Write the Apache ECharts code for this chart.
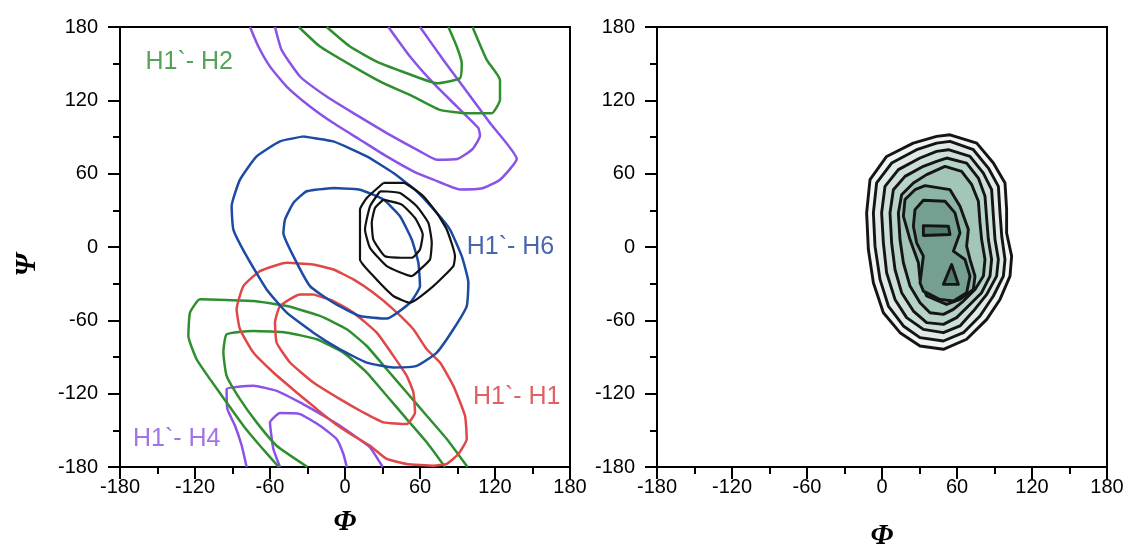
<!DOCTYPE html>
<html><head><meta charset="utf-8">
<script src="https://cdn.jsdelivr.net/npm/echarts@6/dist/echarts.min.js"></script>
<style>html,body{margin:0;padding:0;background:#fff}#c{width:1130px;height:550px}</style>
</head><body><div id="c"></div>
<script>
// ---- axes ----
const phiTicks = [-180, -120, -60, 0, 60, 120, 180];
const psiTicks = [-180, -120, -60, 0, 60, 120, 180];

// ---- left panel contours [phi, psi] ----
const h2TopOuter = [[-37,180],[-20,164],[6.7,147.6],[30.7,134],[54.7,123.1],[76,112.2],[97.4,109.5],[117.4,109.5],[124,120.4],[124,136.7],[113.4,153.1],[102,180]];
const h2TopInner = [[-14.7,180],[4,164],[25.4,151.7],[49.4,142.2],[73.4,134],[92,138.1],[93.4,150.3],[89.4,164],[82.7,180]];
const h2LowOuter = [[98,-180],[81.4,-157.1],[65.4,-138.1],[49.4,-119],[33.4,-100],[17.4,-81],[1.4,-67.3],[-20,-56.4],[-46.6,-48.3],[-73.3,-44.2],[-116,-42.8],[-124,-53.7],[-125.3,-72.8],[-118.7,-91.8],[-108,-108.1],[-94.7,-127.2],[-81.3,-146.2],[-68,-162.6],[-53,-180]];
const h2LowInner = [[80,-180],[65.4,-159.8],[49.4,-140.8],[33.4,-121.7],[17.4,-102.7],[-1.3,-86.4],[-22.6,-75.5],[-46.6,-70.1],[-73.3,-68.7],[-94.7,-71.4],[-97.3,-86.4],[-94.7,-105.4],[-84,-124.5],[-70.7,-143.5],[-54.7,-162.6],[-30,-180]];
const h4TopOuter = [[-76,180],[-69.3,164],[-60,147.6],[-46.7,131.3],[-28,115],[-9.3,101.4],[12,87.8],[33.4,74.1],[54.7,61.9],[70.7,55.1],[92,47],[110,48],[124,55],[137.4,72],[116,101.4],[97.4,127.2],[78.7,153],[60,180]];
const h4TopInner = [[-56,180],[-50.7,161.2],[-36,139.5],[-14.7,123.1],[6.7,109.5],[33.4,93.2],[60,78.2],[73.4,71.4],[90,72],[102,80],[108,91],[106.7,97.3],[89.4,115],[70.7,134],[52,155.8],[34.7,180]];
const h4LowOuter = [[-78.7,-180],[-82.6,-162.6],[-88,-146.2],[-94.1,-132.6],[-94.7,-116.3],[-73.3,-113.6],[-54.7,-117.7],[-36,-127.2],[-17.3,-138.1],[-4,-146.2],[9.4,-155.8],[20,-163.9],[25.4,-172.1],[30.2,-180]];
const h4LowInner = [[-52,-180],[-57.3,-165.3],[-60,-143.5],[-52,-135.9],[-36,-136.7],[-20,-146.2],[-6.7,-157.1],[-1.3,-169.4],[1.4,-180]];
const h6Outer = [[-33.3,90.5],[-52,86.4],[-70.7,74.1],[-84,55.1],[-90.7,33.3],[-89.3,14.3],[-78.7,-7.5],[-62.7,-34.7],[-46.6,-53.7],[-25.3,-70.1],[-4,-83.7],[17.4,-94.6],[38.7,-98.6],[57.4,-97.3],[73.4,-86.4],[86.7,-67.3],[97.4,-48.3],[98.7,-29.2],[93.4,-7.5],[84,14.3],[73.4,27.9],[57.4,45.6],[38.7,60.5],[17.4,74.1],[-9.3,86.4],[-33.3,90.5]];
const h6Inner = [[-9.3,48.3],[-30.6,45.6],[-41.3,36],[-48,22.4],[-49.3,11.5],[-41.3,-7.5],[-28,-32],[-9.3,-45.6],[12,-56.5],[33.4,-58.6],[52,-45.6],[60,-32],[58.7,-12.9],[53.4,6.1],[44,25.2],[30.7,38.8],[12,46.9],[-9.3,48.3]];
const h1Outer = [[-25.3,-14.3],[-46.6,-12.9],[-68,-19.7],[-81.3,-32],[-86.7,-51],[-84,-67.3],[-73.3,-86.4],[-57.3,-102.7],[-38.7,-119],[-22.6,-132.6],[-9.3,-143.5],[6.7,-154.4],[20,-162.6],[33.4,-173.4],[49.4,-177.5],[70.7,-178.9],[81.4,-177.5],[90.7,-169.4],[97.4,-157.1],[96,-138.1],[86.7,-113.6],[76,-94.5],[65.4,-83.7],[54.7,-67.3],[38.7,-51],[22.7,-37.4],[6.7,-26.5],[-9.3,-18.4],[-25.3,-14.3]];
const h1Inner = [[-25.3,-38.8],[-36,-38.8],[-52,-48.3],[-56,-61.9],[-54.7,-78.2],[-44,-94.5],[-25.3,-110.9],[-4,-124.5],[14.7,-135.4],[30.7,-143.5],[49.4,-144.9],[56,-135.4],[54.7,-119],[49.4,-105.4],[38.7,-89.1],[25.4,-70.1],[6.7,-53.7],[-9.3,-44.2],[-25.3,-38.8]];
const blackOuter = [[30.7,52.4],[46.7,52.4],[62.7,41.5],[73.4,27.9],[81.4,14.3],[88,-7.5],[86.7,-15.6],[70.7,-32],[52,-45.6],[38.7,-40.1],[22.7,-23.8],[12,-10.2],[12,14.3],[12,30.6],[17.4,40.1],[30.7,52.4]];
const blackMid = [[28,45.6],[44,44.2],[57.4,33.3],[66.7,19.7],[69.4,3.4],[68,-10.2],[60,-18.4],[53.4,-23.8],[33.4,-15.6],[20,-0.7],[16,14.3],[20,33.3],[28,45.6]];
const blackInner = [[30.7,38.8],[45.4,34.7],[56,23.8],[62.2,10.2],[60,-2],[53.4,-8.8],[32,-7.5],[22.7,6.1],[21.4,19.7],[24,32],[30.7,38.8]];

// ---- right panel filled contours (outer -> inner) ----
const ring1 = [[54.4,91.8],[75.8,85],[89.1,68.7],[98.4,52.4],[99.7,30.6],[99.7,11.5],[103.7,-7.5],[102.4,-23.8],[94.4,-42.9],[83.8,-59.2],[67.7,-75.5],[49.1,-83.7],[30.4,-81],[14.4,-70.1],[1.1,-53.8],[-6.9,-29.3],[-10.9,-2.1],[-12.3,27.9],[-9.6,55.1],[3.7,74.1],[25,85],[43.7,90.5]];
const ring2 = [[54.4,86.4],[73.1,79.6],[85.1,64.6],[93.1,49.6],[94.4,27.9],[95.8,8.8],[98.4,-10.2],[97.1,-23.8],[89.1,-40.1],[78.4,-56.5],[65.1,-70.1],[49.1,-76.9],[30.4,-74.2],[17.1,-64.6],[5.1,-48.3],[-1.6,-26.5],[-5.6,0.7],[-6.9,27.9],[-4.3,52.4],[7.7,68.7],[27.7,79.6],[43.7,85]];
const ring3 = [[53.1,79.6],[70.4,74.1],[81.1,60.5],[87.7,46.9],[89.1,25.2],[90.4,6.1],[93.1,-10.2],[91.7,-23.8],[83.8,-38.8],[73.1,-52.4],[62.4,-64.6],[49.1,-70.1],[33.1,-67.4],[19.7,-57.8],[10.4,-42.9],[3.7,-21.1],[1.1,3.4],[-0.3,27.9],[2.4,49.6],[13.1,63.3],[30.4,72.8],[43.7,78.2]];
const ring4 = [[51.7,72.8],[67.7,68.7],[77.1,56.4],[82.4,41.5],[83.8,22.4],[85.1,6.1],[87.7,-10.2],[86.4,-23.8],[79.7,-37.4],[69.1,-48.3],[59.7,-57.8],[49.1,-63.3],[35.7,-61.9],[25.1,-52.4],[15.7,-37.4],[10.4,-18.4],[7.7,3.4],[6.4,27.9],[9.1,46.9],[18.4,57.8],[33.1,66],[43.7,70.1]];
const ring5 = [[50.4,66],[63.7,61.9],[71.8,51],[77.1,37.4],[78.4,19.7],[79.7,6.1],[82.4,-10.2],[81.1,-23.8],[74.4,-34.7],[65.1,-44.2],[57.1,-51],[49.1,-55.1],[38.4,-53.8],[30.4,-45.6],[22.4,-32],[17.1,-12.9],[14.4,6.1],[13.1,27.9],[15.7,42.8],[25.1,52.4],[35.7,59.2]];
const ring6 = [[34.4,50.2],[54.4,46.9],[62.4,33.3],[69.1,14.3],[67.7,0.7],[70.4,-10.2],[74.4,-23.8],[73.1,-34.7],[62.4,-42.9],[51.7,-47],[35.7,-40.1],[30.4,-26.5],[29.1,-12.9],[22.4,6.1],[17.1,25.2],[18.4,38.8],[26.4,46.9]];
const ring7 = [[33.1,38.2],[50.4,37.4],[58.4,27.9],[62.4,11.5],[57.1,-3.4],[66.4,-10.2],[70.4,-23.8],[67.7,-37.4],[57.1,-44.2],[46.4,-42.9],[33.1,-36.1],[30.4,-29.3],[33.1,-7.5],[27.7,3.4],[25.1,17],[26.4,30.6]];
const ring8a = [[33.1,17.5],[53.1,17],[54.4,10.2],[33.1,9.4]];
const ring8b = [[55.7,-14.3],[61.1,-30.6],[49.1,-30.6]];

// ---- labels ----
const labelTexts = ['H1`- H2', 'H1`- H6', 'H1`- H1', 'H1`- H4'];
const labelAnchors = [[-160,151], [97,0], [102,-123], [-170,-157]];

// ---- styles ----
const GREEN = '#2f8f2f', BLUE = '#1d4aa2', RED = '#e04848', PURPLE = '#8a52e6', BLACK = '#111';
const labelColors = ['#2e8a2e', '#1a3f99', '#d83a3a', '#8a50e0'];
const ringFills = ['#f1f6f3', '#e0ebe6', '#cde0d8', '#b8d3c8', '#a3c6b9', '#8db5a6', '#759f90', '#527c6e', '#527c6e'];
const rings = [ring1, ring2, ring3, ring4, ring5, ring6, ring7, ring8a, ring8b];

const chart = echarts.init(document.getElementById('c'), null, {renderer: 'canvas'});

function xAx(gi, gap) {
  return {
    gridIndex: gi, type: 'value', min: phiTicks[0], max: phiTicks[phiTicks.length - 1], interval: phiTicks[1] - phiTicks[0],
    axisLine: {show: true, onZero: false, lineStyle: {color: '#000', width: 2}},
    axisTick: {show: true, inside: false, length: 12, lineStyle: {color: '#000', width: 2}},
    minorTick: {show: true, splitNumber: 2, length: 7, lineStyle: {color: '#000', width: 2}},
    axisLabel: {color: '#000', fontSize: 20, fontFamily: 'Liberation Sans', margin: 10},
    splitLine: {show: false},
    name: 'Φ', nameLocation: 'middle', nameGap: gap,
    nameTextStyle: {fontFamily: 'Liberation Serif', fontStyle: 'italic', fontWeight: 'bold', fontSize: 29, color: '#000'}
  };
}
function yAx(gi, withName) {
  return {
    gridIndex: gi, type: 'value', min: psiTicks[0], max: psiTicks[psiTicks.length - 1], interval: psiTicks[1] - psiTicks[0],
    axisLine: {show: true, onZero: false, lineStyle: {color: '#000', width: 2}},
    axisTick: {show: true, inside: false, length: 12, lineStyle: {color: '#000', width: 2}},
    minorTick: {show: true, splitNumber: 2, length: 7, lineStyle: {color: '#000', width: 2}},
    axisLabel: {color: '#000', fontSize: 20, fontFamily: 'Liberation Sans', margin: 22},
    splitLine: {show: false},
    name: withName ? 'Ψ' : '', nameLocation: 'middle', nameGap: 78, nameRotate: 90,
    nameTextStyle: {fontFamily: 'Liberation Serif', fontStyle: 'italic', fontWeight: 'bold', fontSize: 29, color: '#000', padding: [0, 36, 0, 0]}
  };
}
function contour(data, color, w) {
  return {type: 'line', xAxisIndex: 0, yAxisIndex: 0, data: data, showSymbol: false, symbol: 'none',
    smooth: 0.15, lineStyle: {color: color, width: w}, silent: true, animation: false, clip: true, z: 3};
}

const series = [
  contour(h4TopOuter, PURPLE, 2.5), contour(h4TopInner, PURPLE, 2.5),
  contour(h4LowOuter, PURPLE, 2.5), contour(h4LowInner, PURPLE, 2.5),
  contour(h2TopOuter, GREEN, 2.5), contour(h2TopInner, GREEN, 2.5),
  contour(h2LowOuter, GREEN, 2.5), contour(h2LowInner, GREEN, 2.5),
  contour(h1Outer, RED, 2.5), contour(h1Inner, RED, 2.5),
  contour(h6Outer, BLUE, 2.5), contour(h6Inner, BLUE, 2.5),
  contour(blackOuter, BLACK, 2.2), contour(blackMid, BLACK, 2.2), contour(blackInner, BLACK, 2.2),
  {
    type: 'scatter', xAxisIndex: 0, yAxisIndex: 0, symbolSize: 1, itemStyle: {color: 'rgba(0,0,0,0)'}, silent: true, animation: false,
    data: labelTexts.map((t, i) => ({name: t, value: labelAnchors[i],
      label: {show: true, position: 'right', distance: 0, formatter: t, color: labelColors[i], fontSize: 25, fontFamily: 'Liberation Sans'}})),
    z: 5
  },
  {
    type: 'custom', xAxisIndex: 1, yAxisIndex: 1, silent: true, animation: false, clip: true,
    data: rings.map((r, i) => [r[0][0], r[0][1], i]),
    renderItem: function (params, api) {
      const idx = api.value(2);
      const pts = rings[idx].map(p => api.coord(p));
      return {type: 'polygon', shape: {points: pts},
        style: {fill: ringFills[idx], stroke: '#151515', lineWidth: 2.9, lineJoin: 'round'}};
    }
  }
];

chart.setOption({
  animation: false,
  backgroundColor: '#fff',
  grid: [
    {left: 120, top: 27, width: 450, height: 440, show: true, borderColor: '#000', borderWidth: 2, backgroundColor: 'transparent', outerBoundsMode: 'none', containLabel: false},
    {left: 657, top: 27, width: 450, height: 440, show: true, borderColor: '#000', borderWidth: 2, backgroundColor: 'transparent', outerBoundsMode: 'none', containLabel: false}
  ],
  xAxis: [xAx(0, 41), xAx(1, 55)],
  yAxis: [yAx(0, true), yAx(1, false)],
  series: series
});
</script></body></html>
